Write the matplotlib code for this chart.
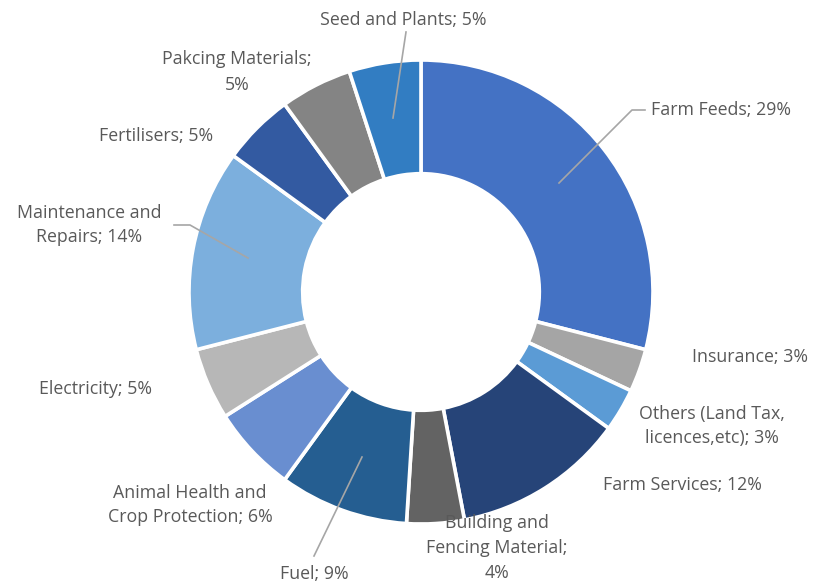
import matplotlib.pyplot as plt
import numpy as np

# cost shares, clockwise from 12 o'clock
labels = ['Farm Feeds', 'Insurance', 'Others (Land Tax,\nlicences,etc)', 'Farm Services',
          'Building and\nFencing Material;\n', 'Fuel', 'Animal Health and\nCrop Protection',
          'Electricity', 'Maintenance and\nRepairs', 'Fertilisers', 'Pakcing Materials;\n',
          'Seed and Plants']
shares = [29, 3, 3, 12, 4, 9, 6, 5, 14, 5, 5, 5]
colors = ['#4472C4', '#A5A5A5', '#5B9BD5', '#264478', '#636363', '#255E91',
          '#698ED0', '#B7B7B7', '#7CAFDD', '#335AA1', '#848484', '#327DC2']

plt.rcParams['font.family'] = ['Open Sans', 'DejaVu Sans']
W, H = 814, 585
fig = plt.figure(figsize=(W / 100, H / 100), dpi=100)
ax = fig.add_axes([0, 0, 1, 1])

cx, cy, R = 421, 292, 232
ax.pie(shares, colors=colors, startangle=90, counterclock=False,
       center=(cx, H - cy), radius=R,
       wedgeprops=dict(width=R * 0.49, edgecolor='white', linewidth=2.6))
ax.set_xlim(0, W)
ax.set_ylim(0, H)
ax.set_aspect('equal')
ax.axis('off')

tc = '#595959'
fs = 12.8
def lab(i, x, y, ha='center'):
    txt = labels[i]
    if txt.endswith('\n'):
        s = txt + f'{shares[i]}%'
    else:
        s = txt + f'; {shares[i]}%'
    ax.text(x, H - y, s, ha=ha, va='center', fontsize=fs, color=tc, linespacing=1.5,
            multialignment='center')

lab(0, 651, 110, 'left')
lab(1, 692, 357, 'left')
lab(2, 712, 426)
lab(3, 603, 485, 'left')
lab(4, 497, 548)
lab(5, 314, 574)
lab(6, 190, 505)
lab(7, 39, 389, 'left')
lab(8, 89, 225)
lab(9, 99, 136, 'left')
lab(10, 237, 72)
lab(11, 403, 20)

lc = '#A6A6A6'
def leader(xs, ys):
    ax.plot(xs, [H - y for y in ys], color=lc, lw=1.2)

leader([559, 632, 645], [183, 110, 110])
leader([393, 406], [118, 32])
leader([362, 314], [457, 556])
leader([248, 190, 174], [258, 225, 225])

fig.savefig('out.png', dpi=100, facecolor='white')
